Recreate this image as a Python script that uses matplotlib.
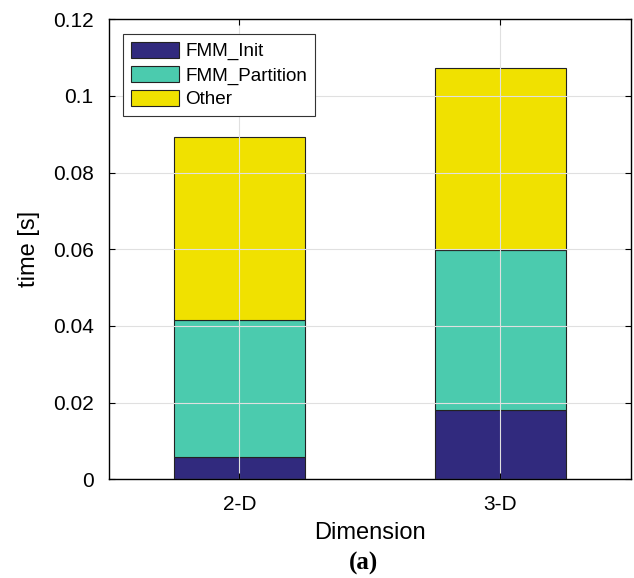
import numpy as np
from matplotlib import pyplot as plt

dims = ['2-D', '3-D']
fmm_init = [0.0058, 0.0180]
fmm_partition = [0.0358, 0.0417]
other = [0.0477, 0.0475]
labels = ['FMM_Init', 'FMM_Partition', 'Other']
colors = ['#312a7e', '#4bcbae', '#f0e100']

plt.rcParams['font.family'] = ['Liberation Sans', 'DejaVu Sans']

fig = plt.figure(figsize=(6.34, 5.78), dpi=100)
ax = fig.add_axes([0.1719, 0.1708, 0.8233, 0.7958])

x = np.arange(1, len(dims) + 1)
bottom = np.zeros(len(dims))
for vals, lab, col in zip([fmm_init, fmm_partition, other], labels, colors):
    ax.bar(x, vals, width=0.5, bottom=bottom, color=col, edgecolor='#222222',
           linewidth=0.8, label=lab, zorder=2)
    bottom += np.array(vals)

ax.set_xlim(0.5, 2.5)
ax.set_ylim(0, 0.12)
ax.set_xticks(x)
ax.set_xticklabels(dims)
ax.set_yticks(np.arange(0, 0.121, 0.02))
ax.set_yticklabels(['0', '0.02', '0.04', '0.06', '0.08', '0.1', '0.12'])
ax.grid(True, color='#e0e0e0', linewidth=0.8, zorder=3)
ax.set_axisbelow(False)
ax.tick_params(direction='in', top=True, right=True, labelsize=15, length=4, pad=11)
for s in ax.spines.values():
    s.set_linewidth(1.0)
    s.set_zorder(4)

ax.set_xlabel('Dimension', fontsize=17, labelpad=6)
ax.set_ylabel('time [s]', fontsize=17, labelpad=9.5)

leg = ax.legend(loc='upper left', fontsize=13.6, handlelength=2.55, handleheight=0.95,
                labelspacing=0.28, handletextpad=0.35, borderpad=0.4,
                borderaxespad=0, fancybox=False, framealpha=1, edgecolor='#333333',
                bbox_to_anchor=(0.027, 0.968))
leg.get_frame().set_linewidth(0.8)

fig.text(0.574, 0.014, '(a)', fontsize=18, fontweight='bold',
         family=['Liberation Serif', 'DejaVu Serif'], ha='center')

fig.savefig('out.png', dpi=100)
